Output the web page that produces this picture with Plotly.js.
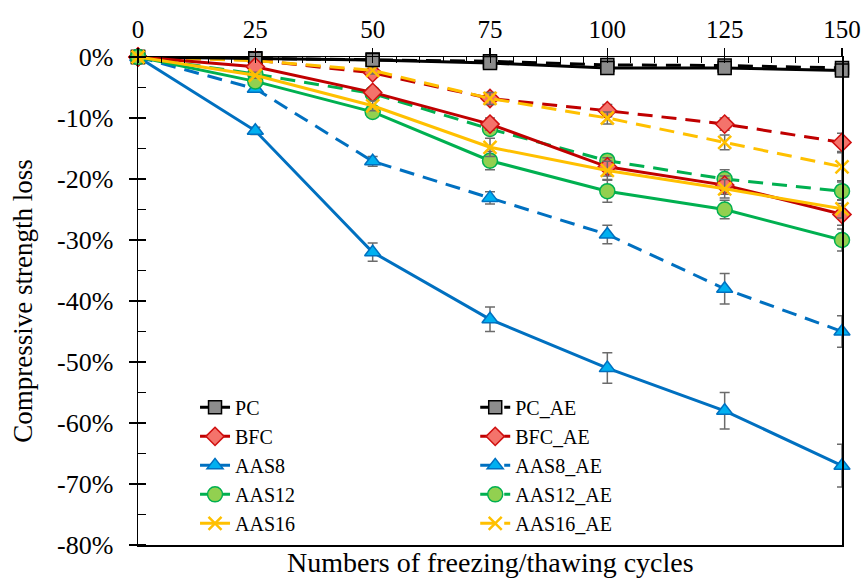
<!DOCTYPE html>
<html>
<head>
<meta charset="utf-8">
<script src="https://cdn.plot.ly/plotly-3.0.1.min.js"></script>
<style>html,body{margin:0;padding:0;background:#fff;}#chart{width:864px;height:581px;}</style>
</head>
<body>
<div id="chart"></div>
<script>
// Freeze/thaw cycles
const cycles = [0, 25, 50, 75, 100, 125, 150];

// Compressive strength loss (%) - without air entrainment
const PC      = [0, -0.3, -0.5, -1.0, -1.8, -1.8, -2.2];
const BFC     = [0, -1.6, -5.8, -11.0, -18.0, -21.0, -25.8];
const AAS8    = [0, -12.1, -32.0, -43.0, -51.0, -58.0, -67.0];
const AAS12   = [0, -4.0, -9.0, -17.0, -22.0, -25.0, -30.0];
const AAS16   = [0, -3.0, -8.0, -14.8, -18.6, -21.6, -24.9];
// With air entrainment
const PC_AE    = [0, -0.2, -0.4, -0.7, -1.3, -1.4, -1.8];
const BFC_AE   = [0, -0.5, -2.6, -6.8, -8.8, -11.0, -14.0];
const AAS8_AE  = [0, -5.2, -17.1, -23.1, -29.1, -38.0, -45.0];
const AAS12_AE = [0, -2.8, -6.0, -11.8, -17.0, -20.0, -22.0];
const AAS16_AE = [0, -0.6, -2.2, -6.8, -10.0, -14.0, -18.0];

// Error bar half-widths (%)
const PC_err       = [0, 0.4, 0.5, 0.6, 0.8, 0.8, 0.8];
const BFC_err      = [0, 0.5, 0.6, 1.0, 1.5, 1.5, 1.8];
const AAS8_err     = [0, 0.6, 1.5, 2.0, 2.5, 3.0, 3.5];
const AAS12_err    = [0, 0.6, 0.8, 1.5, 1.8, 1.5, 1.8];
const AAS16_err    = [0, 0.5, 0.8, 1.5, 1.5, 1.5, 1.5];
const PC_AE_err    = [0, 0.3, 0.4, 0.5, 0.6, 0.6, 0.6];
const BFC_AE_err   = [0, 0.3, 0.5, 0.8, 1.0, 1.0, 1.5];
const AAS8_AE_err  = [0, 0.5, 0.8, 1.0, 1.5, 2.5, 2.6];
const AAS12_AE_err = [0, 0.5, 0.6, 0.8, 1.0, 1.5, 1.5];
const AAS16_AE_err = [0, 0.4, 0.6, 1.0, 1.0, 1.2, 2.3];

const yTickVals  = [0, -10, -20, -30, -40, -50, -60, -70, -80];
const yTickText  = ['0%', '-10%', '-20%', '-30%', '-40%', '-50%', '-60%', '-70%', '-80%'];
const xTickVals  = [0, 25, 50, 75, 100, 125, 150];

const FONT = 'Liberation Serif, Times New Roman, serif';
const ERRC = '#6b6b6b';

function tr(name, y, err, lineColor, dash, symbol, fill, outline, size, legend) {
  return {
    type: 'scatter', mode: 'lines+markers', name: name,
    x: cycles, y: y,
    legend: legend,
    cliponaxis: false,
    line: {color: lineColor, width: 3, dash: dash},
    marker: {symbol: symbol, color: fill, size: size, line: {color: outline, width: symbol === 'x-thin' ? 2.5 : 1.5}},
    error_y: {type: 'data', array: err, visible: true, color: ERRC, thickness: 1.5, width: 5}
  };
}
const DASH = '15px,9px';
const data = [
  tr('PC_AE',    PC_AE,    PC_AE_err,    '#000000', DASH, 'square',       '#8c8c8c', '#000000', 13, 'legend2'),
  tr('BFC_AE',   BFC_AE,   BFC_AE_err,   '#c00000', DASH, 'diamond',      '#f4736b', '#d01010', 14, 'legend2'),
  tr('AAS8_AE',  AAS8_AE,  AAS8_AE_err,  '#0070c0', DASH, 'triangle-up',  '#00b0f0', '#0070c0', 14, 'legend2'),
  tr('AAS12_AE', AAS12_AE, AAS12_AE_err, '#00b050', DASH, 'circle',       '#92d050', '#00b050', 15, 'legend2'),
  tr('AAS16_AE', AAS16_AE, AAS16_AE_err, '#ffc000', DASH, 'x-thin',       '#ffc000', '#ffc000', 13, 'legend2'),
  tr('PC',    PC,    PC_err,    '#000000', 'solid', 'square',      '#8c8c8c', '#000000', 13, 'legend'),
  tr('BFC',   BFC,   BFC_err,   '#c00000', 'solid', 'diamond',     '#f4736b', '#d01010', 14, 'legend'),
  tr('AAS8',  AAS8,  AAS8_err,  '#0070c0', 'solid', 'triangle-up', '#00b0f0', '#0070c0', 14, 'legend'),
  tr('AAS12', AAS12, AAS12_err, '#00b050', 'solid', 'circle',      '#92d050', '#00b050', 15, 'legend'),
  tr('AAS16', AAS16, AAS16_err, '#ffc000', 'solid', 'x-thin',      '#ffc000', '#ffc000', 13, 'legend'),
  // helper (empty) trace so the inner-tick overlay axis is drawn
  {type: 'scatter', x: [], y: [], yaxis: 'y2', showlegend: false, hoverinfo: 'skip'}
];

const legendCommon = {
  font: {family: FONT, size: 20, color: '#000'},
  bgcolor: 'rgba(0,0,0,0)', borderwidth: 0,
  xanchor: 'left', yanchor: 'top', traceorder: 'normal', tracegroupgap: 0
};

const layout = {
  width: 864, height: 581,
  margin: {l: 138, r: 22, t: 57, b: 36},
  paper_bgcolor: '#ffffff', plot_bgcolor: '#ffffff',
  font: {family: FONT, color: '#000'},
  showlegend: true,
  legend: Object.assign({x: 0.081, y: 0.322}, legendCommon),
  legend2: Object.assign({x: 0.479, y: 0.322}, legendCommon),
  xaxis: {
    side: 'top', range: [0, 150], tickvals: xTickVals,
    showgrid: false, zeroline: false,
    showline: true, linecolor: '#000', linewidth: 1.5, mirror: true,
    ticks: 'outside', ticklen: 8, tickwidth: 1.5, tickcolor: '#000',
    minor: {tickmode: 'linear', tick0: 0, dtick: 5, ticks: 'inside', ticklen: 6, tickwidth: 1, tickcolor: '#000'},
    tickfont: {family: FONT, size: 25, color: '#000'}
  },
  yaxis: {
    range: [-80, 0], tickvals: yTickVals, ticktext: yTickText,
    showgrid: false, zeroline: false,
    showline: true, linecolor: '#000', linewidth: 1.5, mirror: true,
    ticks: 'outside', ticklen: 8, tickwidth: 1.5, tickcolor: '#000',
    ticklabelstandoff: 10,
    minor: {tickmode: 'linear', tick0: 0, dtick: 5, ticks: 'inside', ticklen: 8, tickwidth: 1.2, tickcolor: '#000'},
    tickfont: {family: FONT, size: 26, color: '#000'},
    title: {text: 'Compressive strength loss', font: {family: FONT, size: 27, color: '#000'}, standoff: 16}
  },
  yaxis2: {
    overlaying: 'y', side: 'left', anchor: 'x', range: [-80, 0], tickvals: yTickVals,
    showticklabels: false, showgrid: false, zeroline: false, showline: false,
    ticks: 'inside', ticklen: 8, tickwidth: 1.5, tickcolor: '#000'
  },
  annotations: [{
    text: 'Numbers of freezing/thawing cycles', xref: 'paper', yref: 'paper',
    x: 0.5, y: 0, yshift: -17, xanchor: 'center', yanchor: 'middle', showarrow: false,
    font: {family: FONT, size: 28, color: '#000'}
  }]
};

Plotly.newPlot('chart', data, layout, {staticPlot: true, displayModeBar: false});
</script>
</body>
</html>
